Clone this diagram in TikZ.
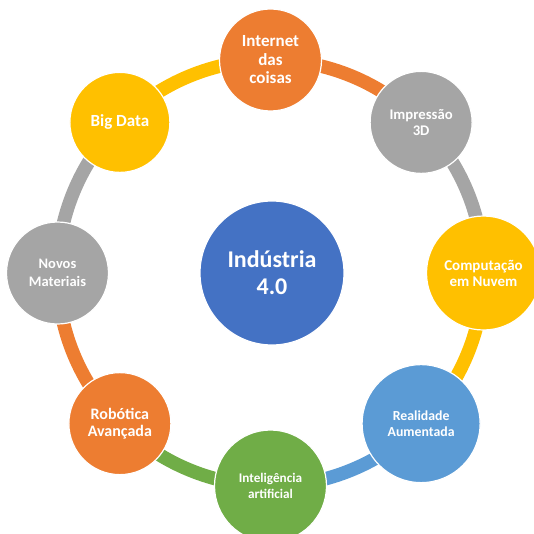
\documentclass[tikz,border=0pt]{standalone}
\usepackage{fontspec}
\setmainfont{Carlito}
\usetikzlibrary{backgrounds}
\definecolor{orangeacc}{HTML}{ED7D31}
\definecolor{greyacc}{HTML}{A5A5A5}
\definecolor{goldacc}{HTML}{FFC000}
\definecolor{blueacc}{HTML}{4472C4}
\definecolor{skyacc}{HTML}{5B9BD5}
\definecolor{greenacc}{HTML}{70AD47}
\newcommand{\ringr}{213}
\newcommand{\bandwidth}{13.5pt}
\newcommand{\bubblefont}[2]{\bfseries\fontsize{#1}{#2}\selectfont}
\tikzset{
  bubble/.style={circle, draw=white, line width=1.2pt, inner sep=0pt, text=white, align=center},
  band/.style={line width=\bandwidth, bend left=22.5, looseness=0.885}
}

\begin{document}
\begin{tikzpicture}[x=1pt, y=1pt]
\useasboundingbox (-270.5, -260.0) rectangle (263.5, 273.0);
\node[bubble, fill=blueacc, minimum size=144pt, font=\bubblefont{24}{27}] (0) at (1.5, 0.0) {Indústria\\4.0};
\node[bubble, fill=orangeacc, minimum size=102pt, font=\bubblefont{17}{18.5}] (1) at (90:\ringr) {Internet\\das\\coisas};
\node[bubble, fill=greyacc, minimum size=102pt, font=\bubblefont{14.7}{16}] (2) at (45:\ringr) {Impressão\\3D};
\node[bubble, fill=goldacc, minimum size=114pt, font=\bubblefont{15}{16}] (3) at (0:\ringr) {Computação\\em Nuvem};
\node[bubble, fill=skyacc, minimum size=118pt, font=\bubblefont{13.8}{16}] (4) at (-45:\ringr) {Realidade\\Aumentada};
\node[bubble, fill=greenacc, minimum size=112pt, font=\bubblefont{13.2}{16.5}] (5) at (-90:\ringr) {Inteligência\\artificial};
\node[bubble, fill=orangeacc, minimum size=102pt, font=\bubblefont{16}{17}] (6) at (-135:\ringr) {Robótica\\Avançada};
\node[bubble, fill=greyacc, minimum size=102pt, font=\bubblefont{14.5}{18}] (7) at (180:\ringr) {Novos\\Materiais};
\node[bubble, fill=goldacc, minimum size=100pt, font=\bubblefont{17}{18}] (8) at (135:\ringr) {Big Data};
%ring
\begin{scope}[on background layer]
\draw[band, orangeacc] (1.center) to (2.center);
\draw[band, greyacc] (2.center) to (3.center);
\draw[band, goldacc] (3.center) to (4.center);
\draw[band, skyacc] (4.center) to (5.center);
\draw[band, greenacc] (5.center) to (6.center);
\draw[band, orangeacc] (6.center) to (7.center);
\draw[band, greyacc] (7.center) to (8.center);
\draw[band, goldacc] (8.center) to (1.center);
\end{scope}
\end{tikzpicture}
\end{document}
